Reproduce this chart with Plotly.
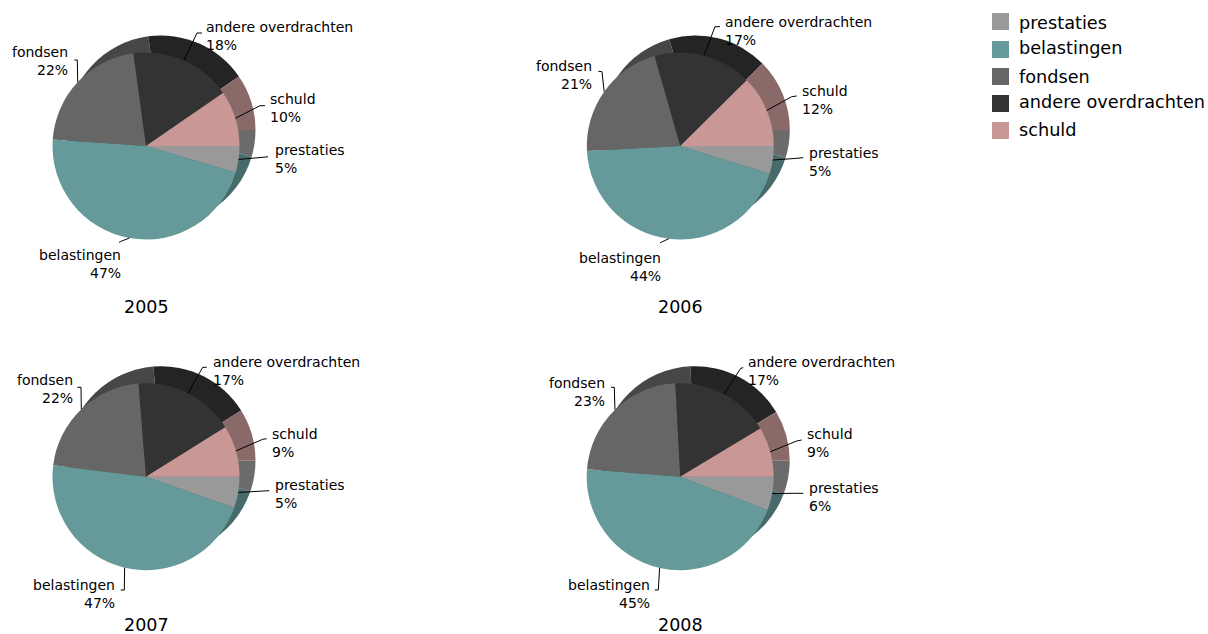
import math
import plotly.graph_objects as go

W, H = 1208, 634

CATEGORIES = ["prestaties", "belastingen", "fondsen", "andere overdrachten", "schuld"]
YEARS = ["2005", "2006", "2007", "2008"]
VALUES_2005 = [4.6, 46.6, 21.8, 17.6, 9.6]
VALUES_2006 = [4.8, 44.3, 21.4, 17.0, 12.4]
VALUES_2007 = [5.4, 46.6, 21.8, 17.4, 8.9]
VALUES_2008 = [5.8, 45.4, 22.9, 17.2, 8.6]
LABELS_2005 = [5, 47, 22, 18, 10]
LABELS_2006 = [5, 44, 21, 17, 12]
LABELS_2007 = [5, 47, 22, 17, 9]
LABELS_2008 = [6, 45, 23, 17, 9]

COLORS_TOP = ["#999999", "#669999", "#666666", "#333333", "#C99896"]
COLORS_BACK = ["#6B6B6B", "#476B6B", "#474747", "#242424", "#8A6A68"]

FONT = "DejaVu Sans"
LABEL_SIZE = 14
LEGEND_SIZE = 17.7
YEAR_SIZE = 17.5
R = 93.5
R_BACK = 94.5
BACK_DX = 15
BACK_DY = 16
LINE_GAP = 18
TEXT_PAD = 1

# per chart: centre, year-label position
CENTERS = {"2005": (146, 146), "2006": (680.3, 146), "2007": (146, 476.7), "2008": (680.2, 476.7)}
YEAR_POS = {"2005": (146, 306.5), "2006": (680.5, 306.5), "2007": (146, 624.5), "2008": (680.5, 624.5)}

# leader elbow, leader end, text edge x, text mid y, for each category
L = {
    "2005": [((263, 157.3), (268, 156.7), 274.7, 159),
             ((120.5, 241.5), (119, 242.5), 120.7, 264),
             ((77.3, 60), (74.3, 60), 67.5, 61),
             ((197, 33), (202, 33), 206, 36),
             ((260, 105.7), (265, 105.7), 269.7, 108)],
    "2006": [((797, 158.3), (803.3, 157.7), 809.3, 162),
             ((661.7, 242), (660, 243), 660.7, 266.7),
             ((602, 71.7), (598.3, 71.3), 592, 75),
             ((715, 26.7), (720, 26.7), 725, 31),
             ((791.7, 96.7), (796.7, 96), 801.7, 100)],
    "2007": [((263.3, 491), (269.3, 490.7), 274.7, 494),
             ((124.3, 590), (120.7, 590), 115.3, 594),
             ((81, 387.3), (77.3, 387.3), 72.7, 389),
             ((202.7, 367.3), (206.7, 367.3), 213.3, 371),
             ((262.7, 439.3), (266.7, 438.7), 272.3, 443)],
    "2008": [((793.3, 493.3), (803.3, 493.3), 809.3, 496.7),
             ((658.3, 590), (654.7, 590), 650, 593.5),
             ((614.3, 387.3), (611, 387.3), 604.7, 391.7),
             ((740.7, 368.3), (743.3, 367.7), 747.7, 371),
             ((796.7, 441), (801.7, 440), 806.7, 443)],
}
LEGEND_BOX_Y = [13, 41, 68, 95, 122]
LEGEND_TEXT_Y = [23, 48, 77, 102, 130]

VALUES = dict(zip(YEARS, [VALUES_2005, VALUES_2006, VALUES_2007, VALUES_2008]))
LABELS = dict(zip(YEARS, [LABELS_2005, LABELS_2006, LABELS_2007, LABELS_2008]))


def px(x):
    return x / W


def py(y):
    return 1 - y / H


def pie(vals, cx, cy, r, colors):
    return go.Pie(
        labels=CATEGORIES, values=vals, sort=False, direction="clockwise", rotation=90,
        marker=dict(colors=colors, line=dict(width=0)), textinfo="none", showlegend=False,
        domain=dict(x=[px(cx - r), px(cx + r)], y=[py(cy + r), py(cy - r)]),
    )


fig = go.Figure()
shapes, annotations = [], []


def text(x, y, s, anchor, size):
    dx = {"left": -TEXT_PAD, "right": TEXT_PAD, "center": 0}[anchor]
    annotations.append(dict(x=px(x + dx), y=py(y), xref="paper", yref="paper", text=s, showarrow=False,
                            xanchor=anchor, yanchor="middle", align=anchor, borderpad=0,
                            font=dict(family=FONT, size=size, color="#000000")))


for year in YEARS:
    cx, cy = CENTERS[year]
    vals = VALUES[year]
    fig.add_trace(pie(vals, cx + BACK_DX, cy - BACK_DY, R_BACK, COLORS_BACK))
    fig.add_trace(pie(vals, cx, cy, R, COLORS_TOP))
    total = sum(vals)
    acc = 0.0
    for i, cat in enumerate(CATEGORIES):
        mid = math.radians((acc + vals[i] / 2) / total * 360)
        acc += vals[i]
        sx, sy = cx + R * math.cos(mid), cy + R * math.sin(mid)
        elbow, end, tx, ty = L[year][i]
        path = "M %f %f L %f %f L %f %f" % (px(sx), py(sy), px(elbow[0]), py(elbow[1]), px(end[0]), py(end[1]))
        shapes.append(dict(type="path", path=path, xref="paper", yref="paper",
                           line=dict(color="#000000", width=1)))
        anchor = "left" if end[0] > sx else "right"
        text(tx, ty - LINE_GAP / 2, cat, anchor, LABEL_SIZE)
        text(tx, ty + LINE_GAP / 2, f"{LABELS[year][i]}%", anchor, LABEL_SIZE)
    text(YEAR_POS[year][0], YEAR_POS[year][1], year, "center", YEAR_SIZE)

for i, cat in enumerate(CATEGORIES):
    y0 = LEGEND_BOX_Y[i]
    shapes.append(dict(type="rect", xref="paper", yref="paper", x0=px(992), x1=px(1009),
                       y0=py(y0 + 17), y1=py(y0), fillcolor=COLORS_TOP[i], line=dict(width=0)))
    text(1019, LEGEND_TEXT_Y[i], cat, "left", LEGEND_SIZE)

fig.update_layout(width=W, height=H, margin=dict(l=0, r=0, t=0, b=0), paper_bgcolor="#FFFFFF",
                  shapes=shapes, annotations=annotations, showlegend=False)
fig.write_html("out.html", config={"displayModeBar": False},
               post_script="document.body.style.margin='0';document.documentElement.style.overflow='hidden';")
